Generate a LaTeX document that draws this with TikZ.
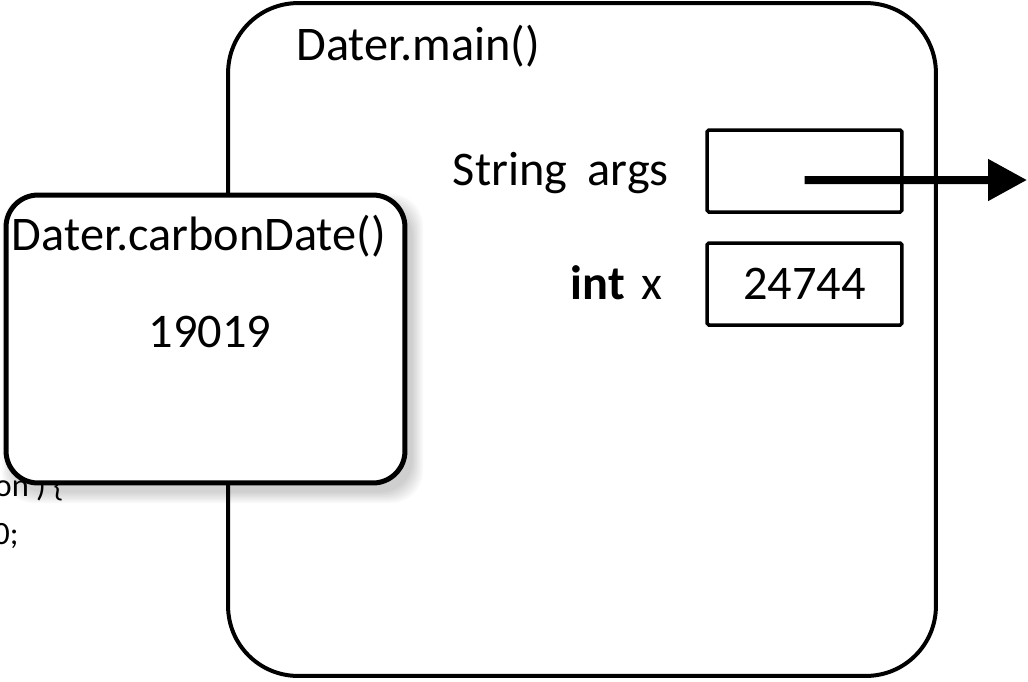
\documentclass[tikz,border=0pt]{standalone}
\usepackage{fontspec}
\setmainfont{Carlito}
\usetikzlibrary{arrows.meta}

\begin{document}
\begin{tikzpicture}[
        x = 0.02cm, y = -0.02cm, % one unit is one pixel
        > = {Triangle[length=0.78cm, width=0.8cm]}, % arrow head style
        font = \fontsize{27.5}{32}\selectfont,
        inner sep = 0pt
    ]

    \tikzstyle{frame}=[
        draw = black,
        fill = white,
        line width = 0.08cm,
        rounded corners = 1.4cm
    ]
    \tikzstyle{slot}=[
        draw = black,
        line width = 0.07cm,
        rounded corners = 1pt,
        minimum width = 3.9cm,
        minimum height = 1.64cm
    ]
    \tikzstyle{code}=[font = \fontsize{18.5}{22}\selectfont, anchor = base east]

    \useasboundingbox (0,0) rectangle (1028,681);

    \node[frame, minimum width=14.16cm, minimum height=13.46cm] (main) at (582,339.5) {};
    \node[anchor=base west] (maintitle) at (296,60) {Dater.main()};
    \node[anchor=base east] (argslabel) at (669,185) {String\hspace{0.42em}args};
    \node[anchor=base east] (xlabel) at (663,299) {\textbf{int}\hspace{0.35em}x};
    \node[slot] (argsbox) at (804.5,171) {};
    \node[slot] (xbox) at (804.5,284) {24744};

    \node[code] (codea) at (64,496) {on ) \{};
    \node[code] (codeb) at (19,544) {0;};

    % soft shadow of the called frame
    \foreach \s in {1,...,8}
        \fill[black, opacity=0.025, rounded corners=0.64cm]
            ({14-1.5*\s},{206-1.5*\s}) rectangle ({411+1.5*\s},{491+1.5*\s});

    \node[frame, line width=0.1cm, rounded corners=0.64cm, minimum width=7.98cm, minimum height=5.76cm] (carbon) at (205.5,339) {};
    \node[anchor=base] (carbontitle) at (199,250) {Dater.carbonDate()};
    \node[anchor=base] (carbonval) at (210,347) {19019};

    \coordinate (ptr) at (1027,180);
    \path[->, line width=0.16cm] ([yshift=-0.18cm]argsbox.center) edge (ptr);
\end{tikzpicture}
\end{document}
